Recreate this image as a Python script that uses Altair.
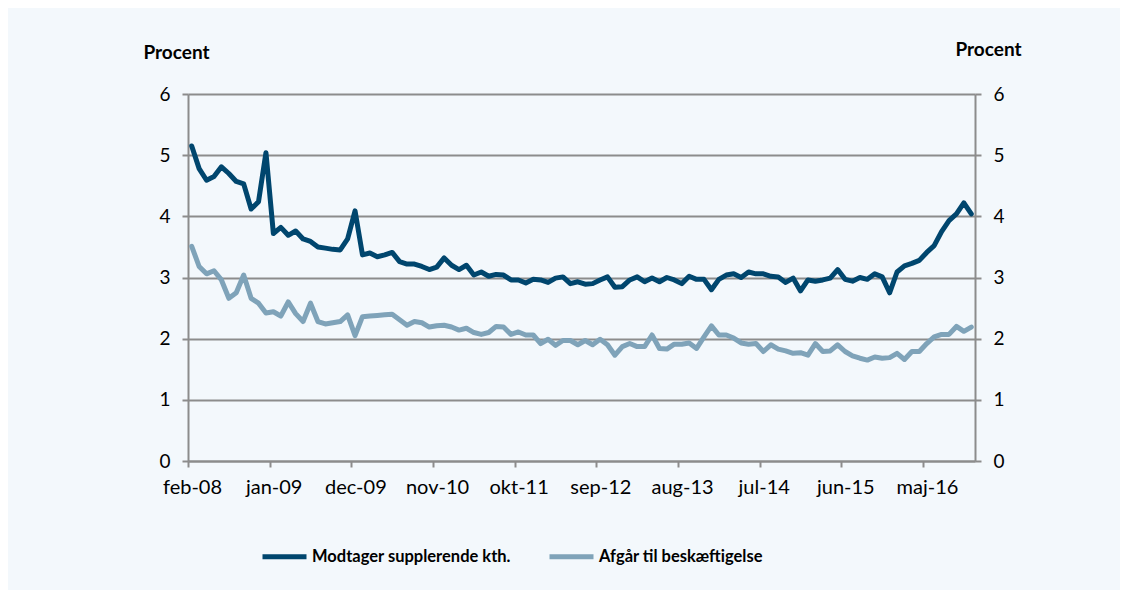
import altair as alt
import pandas as pd

series_names = ["Modtager supplerende kth.", "Afgår til beskæftigelse"]
series_colors = ["#00466e", "#7fa3b9"]

month_abbr = ["jan", "feb", "mar", "apr", "maj", "jun", "jul", "aug", "sep", "okt", "nov", "dec"]
# monthly categories feb-08 .. nov-16
months = []
y, m = 2008, 1
for _ in range(106):
    months.append(f"{month_abbr[m]}-{str(y)[2:]}")
    m += 1
    if m == 12:
        m = 0
        y += 1

tick_labels = ["feb-08", "jan-09", "dec-09", "nov-10", "okt-11", "sep-12",
               "aug-13", "jul-14", "jun-15", "maj-16"]
tick_step = 11
y_ticks = [0, 1, 2, 3, 4, 5, 6]

modtager = [
    5.15, 4.78, 4.59, 4.65, 4.81, 4.70, 4.57, 4.53, 4.12, 4.24,
    5.04, 3.72, 3.82, 3.69, 3.76, 3.63, 3.59, 3.50, 3.48, 3.46,
    3.45, 3.63, 4.09, 3.37, 3.40, 3.34, 3.37, 3.41, 3.26, 3.22,
    3.22, 3.18, 3.13, 3.17, 3.32, 3.20, 3.13, 3.20, 3.04, 3.09,
    3.02, 3.05, 3.04, 2.96, 2.96, 2.91, 2.97, 2.96, 2.92, 2.99,
    3.01, 2.90, 2.93, 2.89, 2.90, 2.96, 3.01, 2.84, 2.85, 2.96,
    3.01, 2.93, 2.99, 2.93, 3.00, 2.96, 2.90, 3.02, 2.97, 2.97,
    2.80, 2.97, 3.04, 3.06, 3.00, 3.09, 3.06, 3.06, 3.02, 3.01,
    2.92, 2.99, 2.78, 2.96, 2.94, 2.96, 2.99, 3.13, 2.97, 2.94,
    3.00, 2.97, 3.06, 3.01, 2.75, 3.09, 3.19, 3.23, 3.28, 3.41,
    3.52, 3.75, 3.93, 4.04, 4.22, 4.04,
]
afgaar = [
    3.51, 3.18, 3.06, 3.11, 2.96, 2.66, 2.75, 3.04, 2.66, 2.58,
    2.42, 2.44, 2.37, 2.60, 2.41, 2.28, 2.58, 2.28, 2.24, 2.26,
    2.28, 2.39, 2.05, 2.36, 2.37, 2.38, 2.39, 2.40, 2.31, 2.22,
    2.28, 2.26, 2.19, 2.21, 2.22, 2.19, 2.14, 2.17, 2.10, 2.07,
    2.10, 2.20, 2.19, 2.07, 2.11, 2.06, 2.06, 1.92, 1.99, 1.89,
    1.97, 1.97, 1.90, 1.97, 1.90, 1.99, 1.90, 1.73, 1.87, 1.92,
    1.87, 1.87, 2.06, 1.84, 1.83, 1.91, 1.91, 1.93, 1.84, 2.03,
    2.21, 2.06, 2.06, 2.01, 1.93, 1.91, 1.92, 1.79, 1.90, 1.83,
    1.80, 1.76, 1.77, 1.73, 1.92, 1.79, 1.80, 1.90, 1.79, 1.72,
    1.68, 1.65, 1.70, 1.68, 1.69, 1.76, 1.66, 1.79, 1.79, 1.92,
    2.03, 2.07, 2.07, 2.20, 2.12, 2.19,
]

rows = []
for i, mo in enumerate(months):
    rows.append({"idx": i + 0.5, "month": mo, "serie": series_names[0], "value": modtager[i]})
    rows.append({"idx": i + 0.5, "month": mo, "serie": series_names[1], "value": afgaar[i]})
df = pd.DataFrame(rows)

label_array = "[" + ",".join(f"'{t}'" for t in tick_labels) + "]"
label_expr = f"{label_array}[round(datum.value / {tick_step})]"

FONT = "Lato"
GRID = "#8c8c8c"

x_enc = alt.X(
    "idx:Q",
    scale=alt.Scale(domain=[0, len(months)], nice=False, zero=False),
    axis=alt.Axis(
        values=[k * tick_step for k in range(len(tick_labels))],
        labelExpr=label_expr,
        title=None,
        grid=False,
        domainColor=GRID, domainWidth=2,
        tickColor=GRID, tickWidth=2, tickSize=6,
        labelFont=FONT, labelFontSize=20, labelColor="#000000",
        labelPadding=10, labelOffset=4, labelFlush=False, labelOverlap=False,
    ),
)

lines = alt.Chart(df).mark_line(strokeWidth=5, strokeJoin="round", strokeCap="round").encode(
    x=x_enc,
    y=alt.Y(
        "value:Q",
        scale=alt.Scale(domain=[0, 6], nice=False),
        axis=alt.Axis(
            values=y_ticks, orient="left",
            title="Procent", titleAngle=0, titleFont=FONT, titleFontSize=19,
            titleFontWeight="bold", titleColor="#000000",
            titleAlign="center", titleBaseline="middle", titleX=-12, titleY=-42,
            grid=True, gridColor=GRID, gridWidth=2,
            domainColor=GRID, domainWidth=2,
            tickColor=GRID, tickWidth=2, tickSize=6,
            labelFont=FONT, labelFontSize=19, labelColor="#000000", labelPadding=12,
        ),
    ),
    color=alt.Color(
        "serie:N",
        scale=alt.Scale(domain=series_names, range=series_colors),
        sort=series_names,
        legend=alt.Legend(
            title=None, orient="none", direction="horizontal",
            legendX=72, legendY=438,
            symbolType="stroke", symbolSize=1936, symbolStrokeWidth=5,
            labelFont=FONT, labelFontSize=16.5, labelFontWeight="bold", labelColor="#000000",
            labelOffset=3, labelLimit=0, columnPadding=28, padding=0,
        ),
    ),
    detail="serie:N",
)

right_axis = alt.Chart(df).mark_line(opacity=0).encode(
    x=alt.X("idx:Q", scale=alt.Scale(domain=[0, len(months)], nice=False, zero=False)),
    y=alt.Y(
        "value:Q",
        scale=alt.Scale(domain=[0, 6], nice=False),
        axis=alt.Axis(
            values=y_ticks, orient="right",
            title="Procent", titleAngle=0, titleFont=FONT, titleFontSize=19,
            titleFontWeight="bold", titleColor="#000000",
            titleAlign="center", titleBaseline="middle", titleX=13, titleY=-45,
            grid=False,
            domainColor=GRID, domainWidth=2,
            tickColor=GRID, tickWidth=2, tickSize=6,
            labelFont=FONT, labelFontSize=19, labelColor="#000000", labelPadding=12,
        ),
    ),
    detail="serie:N",
)

chart = (
    alt.layer(right_axis, lines)
    .resolve_scale(y="independent")
    .properties(
        width=787, height=367,
        autosize=alt.AutoSizeParams(type="none"),
        padding={"left": 180, "top": 86, "right": 145, "bottom": 129},
        background="#f3f8fc",
    )
    .configure_view(stroke=None)
)

chart.save("out.html", embed_options={"renderer": "svg", "actions": False})
